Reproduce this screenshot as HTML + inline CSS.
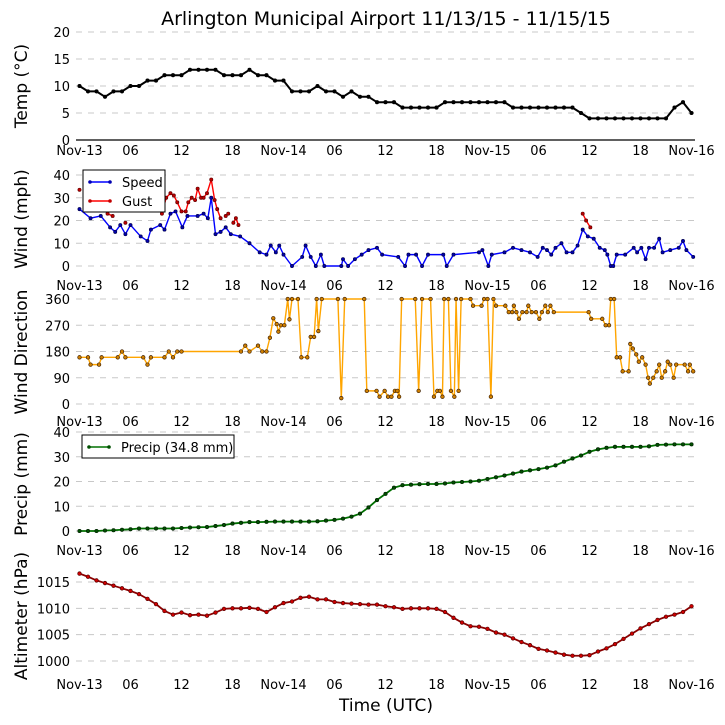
<!DOCTYPE html>
<html><head><meta charset="utf-8"><style>
body{margin:0;background:#fff}
svg{display:block;font-family:"DejaVu Sans","Liberation Sans",sans-serif}
</style></head><body>
<svg id="chart" width="725" height="725" viewBox="0 0 725 725" xmlns="http://www.w3.org/2000/svg">
<rect width="725" height="725" fill="#fff"/>
<text x="386" y="25" font-size="19" text-anchor="middle">Arlington Municipal Airport 11/13/15 - 11/15/15</text>
<text x="386" y="711" font-size="17" text-anchor="middle">Time (UTC)</text>
</svg>
<script>
const xTickLabels=["Nov-13","06","12","18","Nov-14","06","12","18","Nov-15","06","12","18","Nov-16"];
const tempV=[10,9,9,8,9,9,10,10,11,11,12,12,12,13,13,13,13,12,12,12,13,12,12,11,11,9,9,9,10,9,9,8,9,8,8,7,7,7,6,6,6,6,6,7,7,7,7,7,7,7,7,6,6,6,6,6,6,6,6,5,4,4,4,4,4,4,4,4,4,4,6,7,5];
const speedT=[0,1.3,2.5,3.6,4.2,4.8,5.4,6,7.2,8,8.4,9.5,10,10.7,11.3,12.1,12.7,13.9,14.6,15.1,15.5,16,16.6,17.2,17.8,18.9,20,21.2,22,22.5,23.1,23.5,24,25,26.2,26.6,27.2,27.8,28.4,28.8,30.8,31,31.6,32.4,33.2,34,35,35.6,37.5,38.3,38.7,39.6,40.3,41,42.8,43.2,44,47,47.4,48.1,48.5,50,51,52,53,53.9,54.5,55,55.5,56,56.7,57.3,58,58.6,59.2,59.8,60.5,61.2,61.8,62.1,62.5,62.8,63.2,64.2,65.2,65.6,66.1,66.6,67,67.6,68.2,68.6,69.5,70.5,71,71.4,72.2];
const speedV=[25,21,22,17,15,18,14,18,13,11,16,18,16,23,24,17,22,22,23,21,30,14,15,17,14,13,10,6,5,9,6,9,5,0,4,9,4,0,5,0,0,3,0,3,5,7,8,5,4,0,5,5,0,5,5,0,5,6,7,0,5,6,8,7,6,4,8,7,5,8,10,6,6,9,16,13,12,8,7,5,0,0,5,5,8,6,8,3,8,8,12,6,7,8,11,7,4];
const gustT=[0,1,3.3,3.9,4.6,5.4,6,9.7,10.2,10.7,11.1,11.5,12,12.5,12.8,13.2,13.6,13.9,14.3,14.6,15,15.5,15.9,16.2,16.6,16.9,17.2,17.5,17.8,18.1,18.4,18.7,19,59.2,59.6,60.1];
const gustV=[33.5,null,23,22,null,19,null,23,30,32,31,28,24,24,28,30,29,34,30,30,32,38,29,25,21,null,22,23,null,19,21,18,null,23,20,17];
const dirT=[0,1,1.3,2.3,2.6,4.5,5,5.4,7.5,8,8.4,10,10.5,11,11.5,12,19,19.5,20,21,21.5,22,22.4,22.8,23.2,23.4,23.7,24.1,24.5,24.7,25,25.7,26.1,26.8,27.2,27.6,27.9,28.1,28.5,30.4,30.8,31.2,33.5,33.8,34.95,35.3,35.9,36.3,36.7,37.1,37.4,37.6,37.9,39.5,39.9,40.3,41.3,41.7,42.1,42.4,42.7,42.9,43.4,43.7,44.1,44.3,44.6,44.9,46,46.3,47.3,47.6,48,48.4,48.7,49,50.1,50.5,50.9,51.1,51.4,51.7,52.1,52.6,52.8,53.2,53.7,54.1,54.4,54.8,55.1,55.4,55.8,59.9,60.2,61.5,61.9,62.3,62.5,62.9,63.2,63.6,63.9,64.6,64.8,65.1,65.5,65.8,66.2,66.6,66.9,67.1,67.5,67.9,68.2,68.5,68.9,69.2,69.5,69.9,70.2,71.2,71.6,71.8,72.2];
const dirV=[160,160,135,135,160,160,180,160,160,135,160,160,180,160,180,180,180,200,180,200,180,180,227,294,274,248,270,270,360,290,360,360,160,160,230,230,360,250,360,360,20,360,360,45,45,25,45,25,25,45,45,25,360,360,45,360,360,25,45,45,25,360,360,45,25,360,45,360,360,337,337,360,360,25,360,337,337,315,315,337,315,292,315,315,337,315,315,292,315,337,315,337,315,315,292,292,270,270,360,360,160,160,112,112,206,190,170,145,160,135,90,70,90,112,135,90,112,145,135,90,135,135,112,135,112];
const precipV=[0,0,0,0.2,0.3,0.5,0.7,1,1,1,1,1,1.2,1.4,1.5,1.6,2,2.4,3,3.3,3.6,3.6,3.7,3.8,3.8,3.8,3.8,3.8,3.9,4.2,4.5,5,5.8,7,9.5,12.5,15,17.5,18.5,18.7,18.9,19,19,19.2,19.6,19.8,20,20.3,21,21.7,22.4,23.2,24,24.5,25,25.6,26.5,28,29.3,30.5,32,33,33.6,34,34,34,34,34.2,34.8,34.9,35,35,35];
const altV=[1016.6,1016,1015.3,1014.8,1014.3,1013.8,1013.3,1012.7,1011.8,1010.8,1009.5,1008.8,1009.2,1008.7,1008.8,1008.6,1009.2,1009.9,1010,1010,1010.1,1009.9,1009.3,1010.2,1011,1011.3,1012,1012.2,1011.7,1011.7,1011.2,1011,1010.9,1010.8,1010.7,1010.7,1010.4,1010.2,1009.9,1010,1010,1010,1009.9,1009.3,1008.2,1007.3,1006.6,1006.5,1006.1,1005.4,1005,1004.3,1003.6,1003,1002.3,1002,1001.6,1001.2,1001,1001,1001.1,1001.8,1002.4,1003.2,1004.2,1005.2,1006.2,1007,1007.8,1008.4,1008.8,1009.3,1010.4];
const tempTicks=[0,5,10,15,20];
const windTicks=[0,10,20,30,40];
const dirTicks=[0,90,180,270,360];
const precipTicks=[0,10,20,30,40];
const altTicks=[1000,1005,1010,1015];

const NS="http://www.w3.org/2000/svg";
const svg=document.getElementById('chart');
const X0=76,X1=695;
function xs(h){return 79.5+8.5*h;}
function mk(tag,attrs,parent){const e=document.createElementNS(NS,tag);for(const k in attrs)e.setAttribute(k,attrs[k]);(parent||svg).appendChild(e);return e;}
function lin(v0,y0,v1,y1){return v=>y0+(v-v0)*(y1-y0)/(v1-v0);}
const panels=[
 {name:'temp',title:'Temp (\u00b0C)',ys:lin(0,140,20,32),ticks:tempTicks,xlab:155,spine:true,tc:86},
 {name:'wind',title:'Wind (mph)',ys:lin(0,266,40,175),ticks:windTicks,xlab:290,tc:219},
 {name:'direction',title:'Wind Direction',ys:lin(0,404,360,299),ticks:dirTicks,xlab:426,tc:352},
 {name:'precip',title:'Precip (mm)',ys:lin(0,531,40,432),ticks:precipTicks,xlab:555,tc:484},
 {name:'altimeter',title:'Altimeter (hPa)',ys:lin(1000,661,1015,582),ticks:altTicks,xlab:689,tc:616}
];
panels.forEach(p=>{
 const g=mk('g',{});
 
 
 p.ticks.forEach(t=>{
  const y=p.ys(t);
  if(!(p.spine&&t===0)){const l=mk('line',{x1:X0,x2:X1,y1:y,y2:y,stroke:'#c8c8c8','stroke-dasharray':'6,6','stroke-width':1},g);
   
   }
  const tl=mk('text',{x:70,y:y+5,'font-size':13,'text-anchor':'end'},g);
  tl.textContent=t;
  
  
 });
 if(p.spine){const s=mk('line',{x1:X0,x2:X1,y1:p.ys(0),y2:p.ys(0),stroke:'#000','stroke-width':1.2},g);
  
  }
 xTickLabels.forEach((lab,i)=>{
  const t=mk('text',{x:xs(i*6),y:p.xlab,'font-size':13,'text-anchor':'middle'},g);
  t.textContent=lab;
  
  
 });
 const tt=mk('text',{transform:`translate(27,${p.tc}) rotate(-90)`,'font-size':17,'text-anchor':'middle'},g);
 tt.textContent=p.title;
 
 
});
function series(name,ts,vs,ys,color,mfill,medge,lw,r){
 const g=mk('g',{});
 
 
 let segs=[],cur=[];
 vs.forEach((v,i)=>{if(v===null){if(cur.length)segs.push(cur);cur=[];}else cur.push([xs(ts[i]),ys(v)]);});
 if(cur.length)segs.push(cur);
 segs.forEach(s=>{
  if(s.length>1){const pl=mk('polyline',{points:s.map(q=>q.join(',')).join(' '),fill:'none',stroke:color,'stroke-width':lw,'stroke-linejoin':'round'},g);
   
   }
  s.forEach(q=>{const c=mk('circle',{cx:q[0],cy:q[1],r:r,fill:mfill,stroke:medge,'stroke-width':0.7},g);
   
   });
 });
}
const hrs=tempV.map((_,i)=>i);
series('temperature',hrs,tempV,panels[0].ys,'#000','#000','#000',2,1.7);
series('wind-gust',gustT,gustV,panels[1].ys,'#ff0000','#c00000','#600',1.4,1.6);
series('wind-speed',speedT,speedV,panels[1].ys,'#0000ff','#0000b0','#000050',1.4,1.6);
series('wind-direction',dirT,dirV,panels[2].ys,'#ffa500','#d08000','#402000',1.4,1.8);
series('precip',hrs,precipV,panels[3].ys,'#007000','#005000','#002000',1.8,1.7);
series('altimeter',hrs,altV,panels[4].ys,'#8b0000','#d00000','#500',1.8,1.8);

function legend(name,x,y,w,h,items){
 const g=mk('g',{});
 
 
 mk('rect',{x:x,y:y,width:w,height:h,fill:'#fff',stroke:'#000','stroke-width':1},g);
 items.forEach((it,i)=>{
  const cy=y+12+i*19;
  mk('line',{x1:x+7,x2:x+27,y1:cy,y2:cy,stroke:it.c,'stroke-width':1.4},g);
  mk('circle',{cx:x+7,cy:cy,r:1.8,fill:it.m},g);
  mk('circle',{cx:x+27,cy:cy,r:1.8,fill:it.m},g);
  const t=mk('text',{x:x+39,y:cy+5,'font-size':13},g);
  t.textContent=it.t;
  
  
 });
}
legend('wind-legend',83,170,82,42,[{t:'Speed',c:'#0000ff',m:'#0000b0'},{t:'Gust',c:'#ff0000',m:'#c00000'}]);
legend('precip-legend',82,435,152,23,[{t:'Precip (34.8 mm)',c:'#007000',m:'#005000'}]);
</script>
</body></html>
